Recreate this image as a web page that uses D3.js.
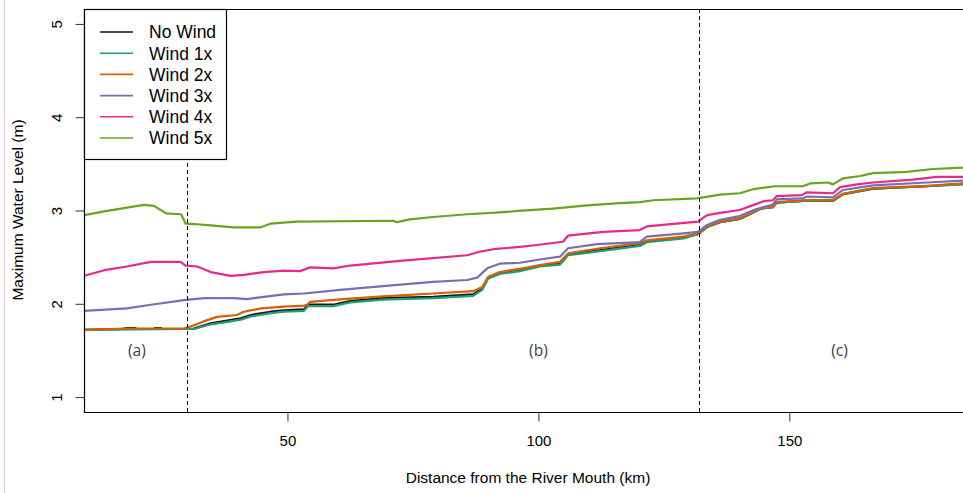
<!DOCTYPE html>
<html><head><meta charset="utf-8">
<script src="https://cdn.jsdelivr.net/npm/d3@7"></script>
<style>body{margin:0;background:#fff;} svg{display:block;}</style>
</head><body><svg id="c" width="963" height="493"></svg>
<script>
// ---------- data ----------
const seriesNames = ["No Wind", "Wind 1x", "Wind 2x", "Wind 3x", "Wind 4x", "Wind 5x"];
const seriesColors = ["#111111", "#1B9E77", "#D95F02", "#7570B3", "#E7298A", "#66A61E"];

const kmNoWind = [9.5,17.0,18.0,19.6,20.0,23.4,23.6,24.8,25.0,29.4,31.4,34.7,37.4,40.7,42.7,46.7,49.3,53.3,54.1,59.1,62.5,69.0,79.0,87.0,88.8,90.0,92.3,96.3,100.3,104.3,105.9,112.3,120.2,121.6,128.9,131.8,133.6,136.2,140.1,142.3,144.3,146.7,147.5,153.5,158.7,160.7,166.7,177.4,184.6];
const lvNoWind = [1.72,1.73,1.74,1.74,1.73,1.73,1.74,1.74,1.73,1.73,1.735,1.79,1.815,1.845,1.88,1.915,1.93,1.94,1.99,1.99,2.03,2.06,2.075,2.10,2.16,2.28,2.33,2.36,2.41,2.43,2.53,2.575,2.63,2.67,2.71,2.75,2.825,2.875,2.91,2.965,3.02,3.035,3.085,3.105,3.105,3.175,3.235,3.26,3.285];

const kmWind1 = [9.5,29.4,31.4,34.7,37.4,40.7,42.7,46.7,49.3,53.3,54.1,59.1,62.5,69.0,79.0,87.0,88.8,90.0,92.3,96.3,100.3,104.3,105.9,112.3,120.2,121.6,128.9,131.8,133.6,136.2,140.1,142.3,144.3,146.7,147.5,153.5,158.7,160.7,166.7,177.4,184.6];
const lvWind1 = [1.72,1.73,1.73,1.78,1.80,1.83,1.865,1.90,1.915,1.925,1.975,1.975,2.015,2.045,2.06,2.085,2.15,2.27,2.32,2.35,2.40,2.42,2.52,2.565,2.62,2.66,2.70,2.745,2.82,2.875,2.91,2.965,3.02,3.035,3.085,3.105,3.105,3.175,3.235,3.26,3.28];

const kmWind2 = [9.5,18.0,29.4,31.4,34.0,36.0,39.9,41.3,44.7,49.3,53.3,53.9,54.5,61.1,69.0,79.0,87.0,88.8,90.0,92.3,96.3,100.3,104.3,105.9,112.3,120.2,121.6,128.9,131.8,133.6,136.2,140.1,142.3,144.3,146.7,147.5,153.5,158.7,160.7,166.7,177.4,184.6];
const lvWind2 = [1.72,1.735,1.735,1.77,1.825,1.86,1.88,1.915,1.95,1.97,1.98,1.99,2.02,2.05,2.08,2.11,2.135,2.18,2.29,2.34,2.375,2.415,2.45,2.54,2.595,2.65,2.68,2.72,2.755,2.83,2.88,2.915,2.97,3.025,3.04,3.09,3.11,3.11,3.18,3.24,3.265,3.29];

const kmWind3 = [9.5,18.0,22.8,29.4,33.4,39.3,41.9,45.3,49.3,53.3,60.5,69.0,79.0,85.8,87.8,89.8,92.3,96.3,100.9,104.3,105.9,111.7,120.2,121.6,128.9,131.8,133.6,136.2,140.1,142.9,146.7,147.5,152.7,153.5,158.7,160.7,166.7,177.4,184.6];
const lvWind3 = [1.925,1.95,1.99,2.04,2.06,2.06,2.05,2.075,2.10,2.11,2.15,2.19,2.235,2.255,2.28,2.38,2.43,2.44,2.48,2.505,2.595,2.64,2.66,2.72,2.755,2.77,2.845,2.90,2.94,3.005,3.065,3.12,3.13,3.15,3.14,3.22,3.27,3.30,3.32];

const kmWind4 = [9.5,13.5,18.0,22.8,28.7,29.7,32.0,34.7,38.7,41.3,45.3,49.3,52.5,54.5,59.1,62.5,72.4,79.0,85.8,88.4,91.0,96.3,99.7,104.9,105.9,112.9,120.2,121.6,129.6,131.8,133.6,136.2,140.1,142.9,144.9,146.7,147.5,152.5,153.5,158.7,160.1,163.5,166.7,174.6,179.4,184.6];
const lvWind4 = [2.30,2.36,2.40,2.45,2.45,2.41,2.40,2.34,2.30,2.31,2.34,2.355,2.35,2.39,2.38,2.41,2.46,2.49,2.52,2.56,2.585,2.61,2.63,2.665,2.73,2.77,2.79,2.83,2.87,2.88,2.95,2.975,3.005,3.06,3.10,3.11,3.155,3.165,3.195,3.185,3.25,3.28,3.30,3.33,3.36,3.36];

const kmWind5 = [9.5,13.5,18.0,21.4,23.4,25.8,28.8,29.7,31.4,34.7,39.3,44.7,46.7,49.3,51.9,71.0,71.8,74.4,79.0,85.8,92.3,96.0,102.9,109.7,116.2,120.2,122.9,131.6,136.2,140.1,142.9,147.1,152.7,154.1,157.7,158.7,160.7,164.1,166.7,173.4,178.6,184.6];
const lvWind5 = [2.95,2.99,3.03,3.06,3.05,2.97,2.96,2.86,2.855,2.84,2.82,2.82,2.86,2.87,2.88,2.89,2.875,2.905,2.93,2.96,2.98,2.995,3.02,3.055,3.08,3.09,3.11,3.13,3.17,3.185,3.23,3.26,3.26,3.29,3.30,3.28,3.345,3.37,3.40,3.415,3.445,3.46];

const xTicks = [50, 100, 150];
const yTicks = [1, 2, 3, 4, 5];
const sectionBounds = [30, 132];
const sectionLabels = ["(a)", "(b)", "(c)"];
const sectionLabelKm = [20, 100, 160];
const sectionLabelLevel = 1.5;
const xTitle = "Distance from the River Mouth (km)";
const yTitle = "Maximum Water Level (m)";

// ---------- layout ----------
const kmSeries = [kmNoWind, kmWind1, kmWind2, kmWind3, kmWind4, kmWind5];
const lvSeries = [lvNoWind, lvWind1, lvWind2, lvWind3, lvWind4, lvWind5];
const L = 84, R = 963, T = 9, B = 412;
const FONT = "'Liberation Sans', Arial, sans-serif";

const svg = d3.select("#c");
const x = d3.scaleLinear().domain([9.46, 184.6]).range([L, R]);
const y = d3.scaleLinear().domain([0.84, 5.16]).range([B, T]);

// faint pink edge line
svg.append("line").attr("x1", 4.5).attr("x2", 4.5).attr("y1", 0).attr("y2", 493)
  .attr("stroke", "#f3cad3").attr("stroke-width", 1);

svg.append("clipPath").attr("id", "clip").append("rect")
  .attr("x", L).attr("y", T).attr("width", R - L).attr("height", B - T);

// series lines
const line = d3.line().x(d => x(d[0])).y(d => y(d[1]));
const gLines = svg.append("g").attr("clip-path", "url(#clip)");
seriesNames.forEach((name, i) => {
  const pts = kmSeries[i].map((k, j) => [k, lvSeries[i][j]]);
  gLines.append("path").datum(pts).attr("d", line)
    .attr("fill", "none").attr("stroke", seriesColors[i])
    .attr("stroke-width", 2.2).attr("stroke-linejoin", "round");
});

// dashed section bounds
svg.selectAll("line.sec").data(sectionBounds).enter().append("line")
  .attr("x1", d => Math.round(x(d)) + 0.5).attr("x2", d => Math.round(x(d)) + 0.5)
  .attr("y1", T).attr("y2", B)
  .attr("stroke", "#000").attr("stroke-width", 1).attr("stroke-dasharray", "4,3");

// section labels
svg.selectAll("text.sec").data(sectionLabels).enter().append("text")
  .attr("x", (d, i) => x(sectionLabelKm[i])).attr("y", y(sectionLabelLevel))
  .attr("dy", "0.35em").attr("text-anchor", "middle")
  .attr("font-family", "'Open Sans', 'Noto Sans', sans-serif").attr("font-size", 15.5)
  .attr("fill", "#3a4150").text(d => d);

// frame
svg.append("path").attr("d", `M${R + 2},${T + 0.5}H${L + 0.5}V${B + 0.5}H${R + 2}`)
  .attr("fill", "none").attr("stroke", "#000").attr("stroke-width", 1.2);

// x axis
const gx = svg.append("g").attr("transform", `translate(0,${B + 0.5})`)
  .call(d3.axisBottom(x).tickValues(xTicks).tickSize(9).tickPadding(14).tickFormat(d3.format("d")));
gx.select(".domain").remove();
gx.selectAll(".tick line").attr("stroke", "#333");
gx.selectAll(".tick text").attr("font-family", FONT).attr("font-size", 15).attr("fill", "#000");

// y axis
const gy = svg.append("g").attr("transform", `translate(${L + 0.5},0)`)
  .call(d3.axisLeft(y).tickValues(yTicks).tickSize(9).tickFormat(d3.format("d")));
gy.select(".domain").remove();
gy.selectAll(".tick line").attr("stroke", "#333");
gy.selectAll(".tick text").attr("font-family", FONT).attr("font-size", 15).attr("fill", "#000")
  .attr("transform", "rotate(-90)").attr("x", 0).attr("y", -23).attr("dy", 0)
  .attr("text-anchor", "middle");

// axis titles
svg.append("text").attr("x", 528).attr("y", 483).attr("text-anchor", "middle")
  .attr("font-family", FONT).attr("font-size", 15.5).attr("fill", "#000").text(xTitle);
svg.append("text").attr("transform", "translate(23,210) rotate(-90)").attr("text-anchor", "middle")
  .attr("font-family", FONT).attr("font-size", 15.5).attr("fill", "#000").text(yTitle);

// legend
const lg = svg.append("g");
lg.append("rect").attr("x", L + 0.5).attr("y", T + 0.5).attr("width", 142).attr("height", 150)
  .attr("fill", "#fff").attr("stroke", "#000").attr("stroke-width", 1.2);
seriesNames.forEach((name, i) => {
  const cy = 32 + i * 21.2;
  lg.append("line").attr("x1", 100).attr("x2", 133).attr("y1", cy).attr("y2", cy)
    .attr("stroke", seriesColors[i]).attr("stroke-width", 1.6);
  lg.append("text").attr("x", 149).attr("y", cy + 6.3)
    .attr("font-family", FONT).attr("font-size", 17.5).attr("fill", "#000").text(name);
});
</script>
</body></html>
